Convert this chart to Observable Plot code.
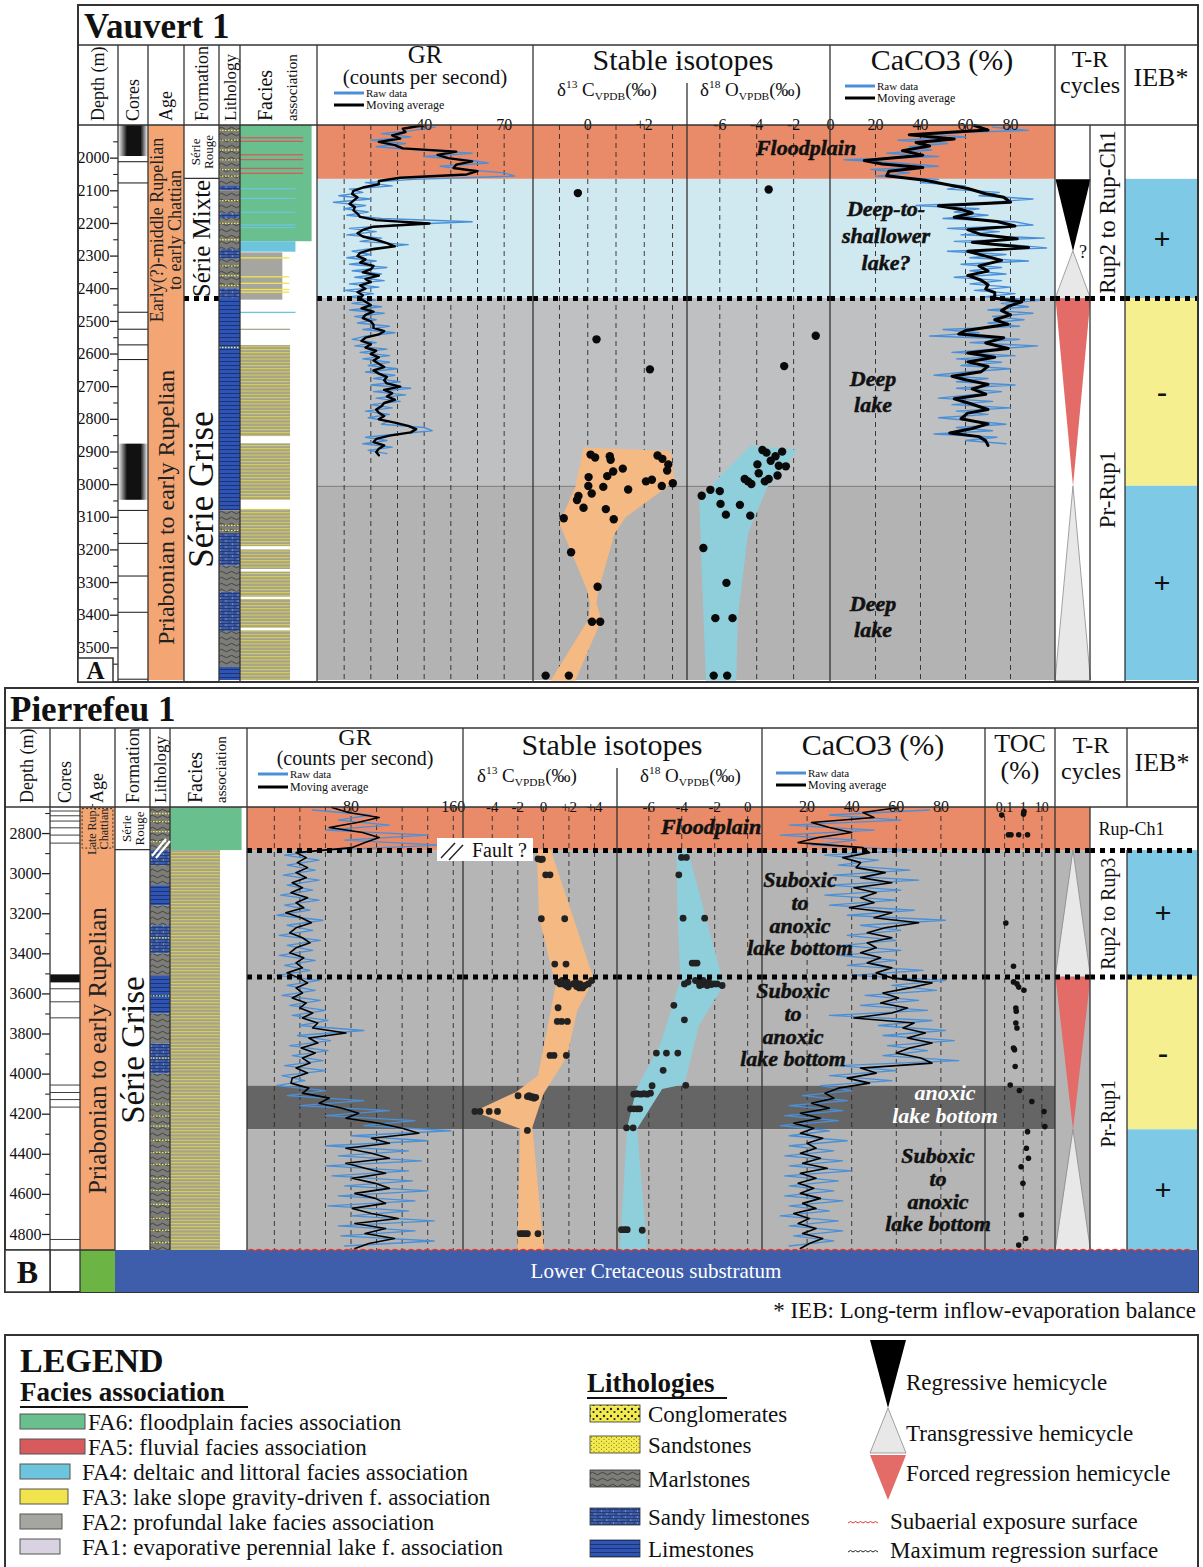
<!DOCTYPE html>
<html>
<head>
<meta charset="utf-8">
<script src="https://cdn.jsdelivr.net/npm/d3@7"></script>
<script src="https://cdn.jsdelivr.net/npm/@observablehq/plot@0.6"></script>
<style>
html,body{margin:0;padding:0;background:#fff;}
#root{position:relative;width:1203px;height:1567px;overflow:hidden;background:#fff;font-family:"Liberation Serif","Times New Roman",serif;}
#root > svg{position:absolute;max-width:none;}
</style>
</head>
<body>
<svg width="0" height="0" style="position:absolute;left:0;top:0">
<defs>
<pattern id="patMarl" width="10" height="6" patternUnits="userSpaceOnUse">
<rect width="10" height="6" fill="#7c7c78"/>
<path d="M0 3.5 Q2.5 1 5 3.5 T10 3.5" fill="none" stroke="#333" stroke-width="0.8"/>
</pattern>
<pattern id="patSandyLime" width="12" height="6" patternUnits="userSpaceOnUse">
<rect width="12" height="6" fill="#3d5ca6"/>
<path d="M0 0.5H12M0 3.5H12M4 0.5V3.5M10 3.5V6" stroke="#1d2e66" stroke-width="0.7" fill="none"/>
<circle cx="7" cy="2" r="0.5" fill="#c9d3ef"/>
<circle cx="1.5" cy="5" r="0.5" fill="#c9d3ef"/>
</pattern>
<pattern id="patLime" width="12" height="4" patternUnits="userSpaceOnUse">
<rect width="12" height="4" fill="#2f55b4"/>
<path d="M0 0.5H12" stroke="#172a64" stroke-width="0.8"/>
</pattern>
<pattern id="patSand" width="5" height="4" patternUnits="userSpaceOnUse">
<rect width="5" height="4" fill="#f3ea4e"/>
<circle cx="1.5" cy="1.2" r="0.55" fill="#6b6218"/>
<circle cx="4" cy="3.2" r="0.55" fill="#6b6218"/>
</pattern>
<pattern id="patCongl" width="7" height="7" patternUnits="userSpaceOnUse">
<rect width="7" height="7" fill="#f3ea4e"/>
<circle cx="2" cy="2" r="1.2" fill="#222"/>
<circle cx="5.5" cy="5" r="1.1" fill="#222"/>
</pattern>
<pattern id="patFA23" width="6" height="3.2" patternUnits="userSpaceOnUse">
<rect width="6" height="3.2" fill="#a4a290"/>
<rect y="0" width="6" height="1" fill="#ddd24a"/>
</pattern>
<linearGradient id="gradCore" x1="0" x2="1" y1="0" y2="0">
<stop offset="0" stop-color="#fff"/>
<stop offset="0.3" stop-color="#111"/>
<stop offset="0.75" stop-color="#111"/>
<stop offset="1" stop-color="#fff"/>
</linearGradient>
</defs>
</svg>
<div id="root"></div>
<script>
// ================= DATA: Vauvert 1 =================
const vauDepthLabels = [2000,2100,2200,2300,2400,2500,2600,2700,2800,2900,3000,3100,3200,3300,3400,3500];
const vauDepthMinor = [1950,2050,2150,2250,2350,2450,2550,2650,2750,2850,2950,3050,3150,3250,3350,3450,3550];
const vauBands = [[1900,2065,"floodplain"],[2065,2430,"lake"],[2430,3005,"deep"],[3005,3600,"deep2"]];
const vauMRS = [2430];
const vauCores = [[1900,1995],[2011,2014],[2076,2079],[2472,2475],[2524,2527],[2572,2575],[2617,2620],[2876,3048],[3079,3082],[3180,3183],[3280,3283],[3391,3394],[3596,3599]];
const vauAge = [[1900,2540,"Early(?)-middle Rupelian\nto early Chattian"],[2540,3600,"Priabonian to early Rupelian"]];
const vauFormation = [[1900,2062,"Série\nRouge"],[2062,2430,"Série Mixte"],[2430,3600,"Série Grise"]];
const vauLitho = [[1900,2085,"marl"],[2085,2100,"sandylime"],[2100,2170,"marl"],[2170,2185,"sandylime"],[2185,2280,"marl"],[2280,2310,"sandylime"],[2310,2400,"marl"],[2400,2430,"sandylime"],[2430,3080,"lime"],[3080,3150,"marl"],[3150,3250,"sandylime"],[3250,3330,"marl"],[3330,3450,"sandylime"],[3450,3560,"marl"],[3560,3600,"lime"]];
const vauSand = [1915,1945,1975,2005,2035,2055,2130,2200,2250,2330,2360,2390,2580,3125,3140];
const vauFacies = [[1900,2256,"FA6"],[1937,1941,"FA5"],[1948,1952,"FA5"],[1989,1993,"FA5"],[2004,2008,"FA5"],[2031,2035,"FA5"],[2046,2050,"FA5"],
  [2093,2097,"FA4"],[2123,2127,"FA4"],[2165,2169,"FA4"],[2204,2208,"FA4"],[2212,2216,"FA4"],[2256,2288,"FA4"],[2290,2435,"FA2"],
  [2305,2309,"FA3"],[2363,2367,"FA3"],[2383,2387,"FA3"],[2402,2406,"FA3"],[2410,2414,"FA3"],[2472,2476,"FA4"],[2524,2528,"FA23"],
  [2574,2853,"FA23"],[2875,3048,"FA23"],[3076,3190,"FA23"],[3200,3260,"FA23"],[3268,3345,"FA23"],[3352,3440,"FA23"],[3448,3600,"FA23"]];
// GR (counts per second), 10 m sampling
const vauGRTop = 1900, vauGRRawTop = 1905, vauStep = 10;
const vauGRMA = [39,32,33,28,31,23,29,32,52,45, 49,58,52,51,60,56,31,23,23,17, 13.5,13,15,13.5,12,14,13.5,15,16,22,
  42,21,17,15,17,22,26,29,20,16, 15,18,16,21,20,17,23,18,20,16, 18,15,17,16,18,20,16.5,21,18,17,
  20,21,21,25,23,18,16.5,20,18,22, 20,23,21,23,25,21,23,26,25,26, 31,25,28,26,29,25,24,22,23,25,
  23,29,34,37,35,27,22,21,25,23, 22,23];
const vauGRRaw = [44,36,24,35,20,33,22,38,58,40, 56,64,46,56,70,74,36,18,28,12, 17,8,20,6,18,10,19,11,24,58,
  28,12,22,11,24,16,34,22,13,20, 11,22,12,26,13,24,14,25,12,23, 10,21,12,22,13,24,12,25,14,22,
  15,27,17,29,18,13,22,14,26,16, 27,17,27,19,30,18,29,21,31,20, 35,21,33,22,31,20,28,18,27,19,
  27,24,40,43,30,18,26,17,28,19, 26];
const vauGRGrid = [10,20,30,40,50,60,70], vauGRTicks = [40,70];
// CaCO3 (%)
const vauCaMADepth = [1900,1914,1928,1941,1952,1963,1977,1991,2007,2018,2029,2040,2054,2068,2080,2093,2109,2120,2135,2146,
  2157,2168,2181,2194,2208,2219,2234,2247,2258,2274,2285,2300,2313,2330,2346,2359,2374,2388,2401,2412,
  2429,2440,2454,2467,2480,2495,2509,2528,2539,2550,2566,2583,2597,2610,2624,2638,2654,2668,2679,2693,
  2707,2723,2737,2754,2770,2781,2798,2814,2828,2842,2853,2866,2880];
const vauCaMA = [64,70,35,55,38,44,32,41,15,23, 41,26,25,42,51,61,69,77,80,48, 58,63,55,74,82,61,67,83,63,88,
  61,69,76,66,70,61,67,70,69,73, 73,85,79,76,80,73,79,60,57,77, 69,79,61,73,61,70,67,54,60,70,
  63,69,55,63,70,61,58,70,63,53, 66,69,70];
const vauCaRawTop = 1905;
const vauCaRaw = [72,88,40,60,30,52,35,45,25,48, 6,30,48,18,35,20,48,40,60,52, 75,66,90,72,38,66,55,70,50,82,
  90,52,75,58,95,55,80,96,52,78, 62,88,58,76,62,78,55,76,62,80, 64,82,68,94,76,88,70,90,72,86,
  70,84,50,66,44,84,62,92,72,54, 82,56,76,58,80,60,46,70,56,82, 56,76,62,48,72,54,80,56,70,48,
  64,78,56,72,46,74,60,78];
const caGrid = [20,40,60,80], caTicks = [20,40,60,80];
// Stable isotopes [depth, permil]
const vauC13 = [[2107,-0.35],[2555,0.31],[2647,2.2],[2908,0.1],[2917,0.26],[2913,0.78],[2924,0.81],[2911,2.47],[2921,2.64],
  [2938,2.85],[2957,2.81],[2951,1.24],[2960,0.9],[2974,0.69],[2977,0.03],[3004,0.02],[3007,0.55],[3027,0.14],[3015,1.43],
  [2990,2.06],[2985,2.27],[3004,2.62],[2996,3.01],[3035,-0.33],[3047,-0.38],[3071,-0.15],[3075,0.64],[3106,0.92],[3103,-0.85],
  [3207,-0.59],[3313,0.35],[3420,0.15],[3420,0.44],[3585,-1.49],[3585,-0.67]];
const vauC13Env = [[2886,-0.15],[2897,2.93],[2990,3.08],[3100,1.34],[3150,0.95],[3326,0.37],[3365,0.31],[3414,0.49],[3600,-0.44],
  [3600,-1.31],[3414,0.02],[3365,0.08],[3321,-0.03],[3122,-0.99],[3100,-0.91],[3007,-0.44]];
const vauO18 = [[2096,-3.35],[2544,-0.8],[2637,-2.51],[2894,-3.69],[2902,-3.47],[2913,-2.98],[2899,-2.62],[2927,-3.24],[2938,-3.96],
  [2942,-2.8],[2944,-2.42],[2965,-3.89],[2983,-3.35],[2972,-2.87],[2983,-4.65],[2990,-4.47],[2998,-4.29],[2990,-3.56],[3062,-4.91],
  [3095,-4.35],[3016,-6.51],[3020,-6.0],[3034,-6.98],[3059,-5.96],[3092,-5.67],[3194,-6.89],[3301,-5.64],[3409,-6.24],[3409,-5.31],
  [3585,-6.33],[3585,-5.6]];
const vauO18Env = [[2880,-4.33],[2894,-1.78],[3007,-3.42],[3150,-4.47],[3403,-5.02],[3600,-5.11],[3600,-6.75],[3260,-6.98],[3051,-7.11],[2976,-6.02]];
const vauC13Grid = [-1,0,1,2,3], vauC13Ticks = [0,2];
const vauO18Grid = [-6,-4,-2], vauO18Ticks = [-6,-4,-2,0];
const vauTR = [[2065,2285,"R"],[2285,2430,"T"],[2430,3005,"F"],[3005,3600,"T"]];
const vauSeq = [[1900,2430,"Rup2 to Rup-Ch1"],[2430,3600,"Pr-Rup1"]];
const vauIEB = [[2065,2430,"+"],[2430,3005,"-"],[3005,3600,"+"]];

// ================= DATA: Pierrefeu 1 =================
const pieDepthLabels = [2800,3000,3200,3400,3600,3800,4000,4200,4400,4600,4800];
const pieDepthMinor = [2700,2900,3100,3300,3500,3700,3900,4100,4300,4500,4700];
const pieBands = [[2670,2885,"floodplain"],[2885,4060,"gray"],[4060,4278,"anoxic"],[4278,4880,"gray"]];
const pieTRBands = [[2670,2885,"floodplain"],[2885,4880,"gray"]];
const pieMRS = [2885,3515];
const pieCores = [[2688,2692],[2712,2716],[2738,2742],[2772,2776],[2808,2812],[2848,2852],[3505,3545],[3575,3579],[3640,3644],[3720,3724],[4055,4059],[4092,4096],[4128,4132],[4165,4169],[4825,4829]];
const pieAge = [[2670,2885,"Late Rup.-\nChattian"],[2885,4880,"Priabonian to early Rupelian"]];
const pieFormation = [[2670,2880,"Série\nRouge"],[2880,4880,"Série Grise"]];
const pieLitho = [[2670,2885,"marl"],[2885,2960,"sandylime"],[2960,3060,"marl"],[3060,3160,"lime"],[3160,3260,"marl"],[3260,3400,"sandylime"],[3400,3510,"marl"],[3510,3700,"lime"],[3700,3850,"marl"],[3850,4000,"sandylime"],[4000,4880,"marl"]];
const pieSand = [2700,2740,2790,2840,3320,3610,3920,4150,4210,4260,4330,4390,4450,4520,4580,4650,4720,4780,4840];
const pieFacies = [[2670,2885,"FA6"],[2885,4880,"FA23"]];
const pieTop = 2670, pieRawTop = 2682.5, pieStep = 25;
const pieGRMA = [65,78,102,85,63,89,102,91,81, 37,45,38,46,37,45,34,42,33,46, 37,43,29,41,49,37,32,42,48,37,
  32,43,37,42,30,39,46,37,42,34, 45,40,50,42,54,50,76,47,54,41, 52,42,48,37,46,34,33,47,42,63,
  55,73,86,76,102,120,133,96,110,76, 96,110,76,91,107,81,99,110,83,99, 107,81,96,117,83,107,91,114,94,83];
const pieGRRaw = [50,95,70,110,60,140,75,150, 60,28,55,30,52,27,55,30,50,25, 55,28,48,22,58,30,50,24,56,30,
  50,24,52,28,48,22,55,30,52,26, 56,32,60,34,62,40,90,38,64,32, 62,34,58,28,60,26,44,22,
  60,30,90,40,110,60,130,90,158,80, 140,60,125,70,135,60,125,65,128,75, 140,70,130,62,125,80,145,70,130,72, 145,75];
const pieGRGrid = [20,40,60,80,100,120,140,160], pieGRTicks = [80,160];
const pieCaMA = [61,45,50,22,30,40,25,16,45, 48,36,44,42,55,44,58,41,51,44, 50,39,58,50,70,55,47,58,47,51,
  44,53,47,58,51,58,76,66,54,61, 53,65,58,41,68,63,73,65,76,66, 60,71,76,44,51,38,48,34,28,32,
  22,30,17,26,14,23,17,27,20,24, 17,26,18,29,17,24,16,23,17,26, 18,24,14,21,16,24,18,27,21,17];
const pieCaRaw = [75,30,62,12,50,8,42,22, 68,28,52,34,66,32,70,30,62,28, 60,30,68,38,82,44,62,38,60,36,
  62,34,60,38,72,40,82,58,78,46, 70,44,74,30,76,52,82,54,86,56, 74,54,88,34,60,30,58,26,
  40,18,38,12,36,10,34,8,30,12, 38,12,32,10,36,12,40,10,34,12, 32,10,36,12,30,8,34,12,36,14, 32,12];
const pieC13 = [[2926,-0.42],[2930,-0.21],[2928,-0.08],[3006,0.18],[3006,0.52],[3225,-0.16],[3225,1.67],[3451,0.89],[3451,1.77],
  [3541,1.09],[3550,1.3],[3550,1.56],[3558,1.77],[3566,1.95],[3550,2.34],[3563,2.6],[3550,2.86],[3570,3.07],[3558,3.26],[3550,3.52],
  [3533,3.78],[3533,1.48],[3541,1.87],[3541,2.53],[3570,2.81],[3669,1.15],[3737,1.09],[3737,1.43],[3737,1.88],[3907,0.52],[3907,0.83],
  [3907,1.8],[4108,-1.98],[4112,-1.25],[4108,-1.12],[4116,-0.99],[4112,-0.86],[4120,-0.73],[4116,-0.6],[4186,-5.36],[4186,-4.95],
  [4186,-4.24],[4186,-3.59],[4281,-1.25],[4796,-1.82],[4796,-1.64],[4796,-1.46],[4796,-1.25],[4796,-0.42]];
const pieC13Env = [[2879,-0.52],[2879,0.57],[3529,3.96],[3682,2.66],[3916,1.82],[4099,0],[4265,-0.86],[4880,0.05],[4880,-2.03],
  [4273,-1.82],[4186,-5.42],[4090,-2.16],[4007,-0.42],[3558,0.96],[3217,-0.34]];
const pieO18 = [[2919,-4.02],[2919,-3.72],[3006,-4.18],[3222,-3.92],[3222,-2.61],[3446,-3.37],[3446,-3.21],[3446,-3.07],
  [3550,-3.84],[3541,-3.62],[3533,-3.17],[3541,-2.97],[3553,-2.77],[3550,-2.57],[3541,-2.36],[3553,-2.22],[3550,-2.06],[3550,-1.86],
  [3558,-1.55],[3558,-2.91],[3558,-2.46],[3533,-2.71],[3657,-4.48],[3729,-3.84],[3895,-5.54],[3895,-4.93],[3895,-4.24],[3981,-5.13],
  [4056,-3.76],[4058,-5.8],[4100,-6.91],[4098,-6.71],[4100,-6.5],[4098,-6.3],[4100,-6.1],[4095,-5.9],[4173,-7.11],[4173,-6.91],
  [4173,-6.71],[4173,-6.55],[4268,-7.35],[4268,-6.95],[4776,-7.66],[4776,-7.47],[4776,-7.31],[4779,-6.4]];
const pieO18Env = [[2879,-4.32],[2879,-3.64],[3553,-1.45],[3760,-2.97],[4051,-3.84],[4074,-5.19],[4273,-6.71],[4880,-6.1],[4880,-7.76],
  [4265,-7.31],[4074,-6.75],[3849,-5.29],[3533,-4.08],[3222,-4.25]];
const pieC13Grid = [-4,-2,0,2,4], pieC13Ticks = [-4,-2,0,2,4];
const pieO18Grid = [-6,-4,-2,0], pieO18Ticks = [-6,-4,-2,0];
const pieTOC = [[2708,0.07],[2690,1.1],[2703,1.04],[2806,0.16],[2806,0.22],[2806,0.57],[2806,1.7],[3246,0.116],[3462,0.3],[3540,0.3],
  [3550,0.46],[3566,0.57],[3582,1.09],[3670,0.4],[3686,0.42],[3745,0.4],[3770,0.46],[3870,0.3],[3878,0.34],[3962,0.37],[4054,0.2],
  [4082,0.62],[4137,2.9],[4187,13],[4262,14.4],[4287,1.7],[4370,1.47],[4420,1.9],[4462,0.77],[4545,0.96],[4703,0.8],[4820,1.35],[4853,0.57]];
const tocGrid = [0.1,1,10], tocTicks = [0.1,1,10];
const pieTR = [[2885,3515,"T"],[3515,4278,"F"],[4278,4880,"T"]];
const pieSeq = [[2885,3515,"Rup2 to Rup3"],[3515,4880,"Pr-Rup1"]];
const pieSeqTop = [[2670,2885,"Rup-Ch1"]];
const pieIEB = [[2885,3515,"+"],[3515,4278,"-"],[4278,4880,"+"]];

// ================= Legend texts =================
const faciesLegend = [["FA6","FA6: floodplain facies association"],["FA5","FA5: fluvial facies association"],["FA4","FA4: deltaic and littoral facies association"],
  ["FA3","FA3: lake slope gravity-driven f. association"],["FA2","FA2: profundal lake facies association"],["FA1","FA1: evaporative perennial lake f. association"]];
const lithoLegend = [["congl","Conglomerates"],["sand","Sandstones"],["marl","Marlstones"],["sandylime","Sandy limestones"],["lime","Limestones"]];

// ================= STYLE =================
const FONT = '"Liberation Serif","Times New Roman",Times,serif';
const RAW = "#4A90D9";
const bandFill = {floodplain:"#E98B69", lake:"#D0E8EF", deep:"#BFC0C2", deep2:"#B3B3B3", gray:"#B5B5B5", anoxic:"#656565"};
const faciesFill = {FA6:"#69BF8D", FA5:"#D75B5C", FA4:"#6CC5DC", FA3:"#F1E44C", FA2:"#A6A6A0", FA1:"#D8D2E2", FA23:"url(#patFA23)"};
const faciesLen = {FA6:0.93, FA5:0.82, FA4:0.72, FA3:0.64, FA2:0.55, FA23:0.65, FA1:0.4};
const lithoFill = {marl:"url(#patMarl)", sandylime:"url(#patSandyLime)", lime:"url(#patLime)", sand:"url(#patSand)", congl:"url(#patCongl)"};
const trFill = {R:"#000", T:"#E8E8E8", F:"#E36B68"};
const iebFill = {"+":"#7DC9E6", "-":"#F6EF90"};

const V = {top:125, bottom:680, d0:1900, d1:3600};
const P = {top:807, bottom:1250, d0:2670, d1:4880};

const root = document.getElementById("root");
function place(node, x, y) {
  node.style.position = "absolute";
  node.style.left = x + "px";
  node.style.top = y + "px";
  node.style.maxWidth = "none";
  root.appendChild(node);
  return node;
}
const baseStyle = {background:"transparent", overflow:"visible", fontFamily:FONT, color:"#111"};
function track(W, x0, x1, xopt, marks) {
  const svg = Plot.plot({
    width: x1 - x0, height: W.bottom - W.top,
    marginTop:0, marginRight:0, marginBottom:0, marginLeft:0,
    x: Object.assign({axis:null}, xopt),
    y: {domain:[W.d0, W.d1], reverse:true, axis:null},
    color: {type:"identity"},
    style: baseStyle,
    marks
  });
  return place(svg, x0, W.top);
}
function depthTrack(W, x0, x1, labels, minor, size) {
  const svg = Plot.plot({
    width: x1 - x0, height: W.bottom - W.top,
    marginTop:0, marginRight:0, marginBottom:0, marginLeft:(x1 - x0) - 8,
    x: {domain:[0,1], axis:null},
    y: {domain:[W.d0, W.d1], reverse:true, axis:null},
    style: baseStyle,
    marks: [
      Plot.ruleY(labels, {y:d => d, x1:() => 0, x2:() => 1, stroke:"#222", strokeWidth:1.3}),
      Plot.ruleY(minor, {y:d => d, x1:() => 0.4, x2:() => 1, stroke:"#222", strokeWidth:1.1}),
      Plot.text(labels, {y:d => d, x:() => 0, text:d => String(d), textAnchor:"end", dx:-1, fontSize:size, fontFamily:FONT, fill:"#111"})
    ]
  });
  return place(svg, x0, W.top);
}
function headerTicks(x0, x1, xopt, ticks, fmt, baseline, size) {
  const h = 24;
  const svg = Plot.plot({
    width: x1 - x0, height: h, marginTop:0, marginRight:0, marginBottom:0, marginLeft:0,
    x: Object.assign({axis:null}, xopt),
    style: baseStyle,
    marks: [Plot.text(ticks, {x:d => d, text:fmt, frameAnchor:"bottom", lineAnchor:"bottom", fontSize:size, fontFamily:FONT, fill:"#111"})]
  });
  return place(svg, x0, baseline - h + 5);
}
const rows = arr => arr.map(([d, v]) => ({d, v}));
const regular = (top, step, vals) => vals.map((v, i) => ({d: top + i * step, v}));
const bands = (b, dom) => Plot.rect(b, {x1:() => dom[0], x2:() => dom[1], y1:d => d[0], y2:d => d[1], fill:d => bandFill[d[2]]});
const grid = g => Plot.ruleX(g, {x:d => d, stroke:"#2a2a2a", strokeWidth:0.9, strokeDasharray:"5,4"});
const mrs = m => Plot.ruleY(m, {y:d => d, stroke:"#000", strokeWidth:5, strokeDasharray:"5,5"});
const bandEdges = b => Plot.ruleY(b.filter(d => d[2] === "deep2").map(d => d[0]), {y:d => d, stroke:"#6a6a6a", strokeWidth:0.8});
const poly = (env, fill) => Plot.line(rows(env), {x:"v", y:"d", fill, stroke:"none", curve:"linear-closed"});
function triangles(tr) {
  return tr.map(([a, b, t]) => {
    const pts = (t === "T") ? [{x:0.5, y:a}, {x:1, y:b}, {x:0, y:b}] : [{x:0, y:a}, {x:1, y:a}, {x:0.5, y:b}];
    return Plot.line(pts, {x:"x", y:"y", fill:trFill[t], stroke:t === "T" ? "#8a8a8a" : "none", strokeWidth:0.8, curve:"linear-closed"});
  });
}
const cores = c => Plot.rect(c, {x1:() => 0, x2:() => 1, y1:d => d[0], y2:d => d[1], fill:d => (d[1] - d[0] > 60 ? "url(#gradCore)" : "#111")});
const litho = (l, s) => [
  Plot.rect(l, {x1:() => 0, x2:() => 1, y1:d => d[0], y2:d => d[1], fill:d => lithoFill[d[2]]}),
  Plot.ruleY(s, {y:d => d, stroke:"#F5EC50", strokeWidth:1.3, strokeDasharray:"1.5,1.5"})
];
const facies = f => Plot.rect(f, {x1:() => 0, x2:d => faciesLen[d[2]], y1:d => d[0], y2:d => d[1], fill:d => faciesFill[d[2]]});
const mid = d => (d[0] + d[1]) / 2;
const sgn = d => (d > 0 ? "+" + d : String(d));

// ================= VAUVERT TRACKS =================
depthTrack(V, 78, 118, vauDepthLabels, vauDepthMinor, 16);
track(V, 118, 148, {domain:[0,1]}, [cores(vauCores)]);
track(V, 148, 184, {domain:[0,1]}, [
  Plot.rect([[V.d0, V.d1]], {x1:() => 0, x2:() => 1, y1:d => d[0], y2:d => d[1], fill:() => "#F3A673"}),
  Plot.text(vauAge.slice(0, 1), {y:mid, text:d => d[2], rotate:-90, fontSize:18, lineHeight:0.95, fontFamily:FONT, fill:"#222"}),
  Plot.text(vauAge.slice(1), {y:mid, text:d => d[2], rotate:-90, fontSize:24, fontFamily:FONT, fill:"#222"})
]);
track(V, 184, 219, {domain:[0,1]}, [
  Plot.ruleY([vauFormation[0][1]], {y:d => d, stroke:"#333", strokeWidth:1.2}),
  Plot.text(vauFormation.slice(0, 1), {y:mid, text:d => d[2], rotate:-90, fontSize:13, lineHeight:1.0, fontFamily:FONT, fill:"#111"}),
  Plot.text(vauFormation.slice(1, 2), {y:mid, text:d => d[2], rotate:-90, fontSize:25, fontFamily:FONT, fill:"#111"}),
  Plot.text(vauFormation.slice(2), {y:mid, text:d => d[2], rotate:-90, fontSize:35, fontFamily:FONT, fill:"#111"}),
  mrs(vauMRS)
]);
track(V, 219, 240, {domain:[0,1]}, litho(vauLitho, vauSand));
track(V, 240, 317, {domain:[0,1]}, [facies(vauFacies)]);
track(V, 317, 533, {domain:[0,81]}, [
  bands(vauBands, [0,81]), bandEdges(vauBands), grid(vauGRGrid),
  Plot.line(regular(vauGRRawTop, vauStep, vauGRRaw), {x:"v", y:"d", stroke:RAW, strokeWidth:1.4}),
  Plot.line(regular(vauGRTop, vauStep, vauGRMA), {x:"v", y:"d", stroke:"#000", strokeWidth:2.4}),
  mrs(vauMRS)
]);
track(V, 533, 687, {domain:[-1.92,3.53]}, [
  bands(vauBands, [-1.92,3.53]), bandEdges(vauBands), grid(vauC13Grid), poly(vauC13Env, "#F5B983"),
  Plot.dot(rows(vauC13), {x:"v", y:"d", r:4.2, fill:"#0a0a0a"}), mrs(vauMRS)
]);
track(V, 687, 830, {domain:[-7.75,0]}, [
  bands(vauBands, [-7.75,0]), bandEdges(vauBands), grid(vauO18Grid), poly(vauO18Env, "#8FCFDB"),
  Plot.dot(rows(vauO18), {x:"v", y:"d", r:4.2, fill:"#0a0a0a"}), mrs(vauMRS)
]);
track(V, 830, 1055, {domain:[0,100]}, [
  bands(vauBands, [0,100]), bandEdges(vauBands), grid(caGrid),
  Plot.line(regular(vauCaRawTop, vauStep, vauCaRaw), {x:"v", y:"d", stroke:RAW, strokeWidth:1.4}),
  Plot.line(vauCaMA.map((v, i) => ({d:vauCaMADepth[i], v})), {x:"v", y:"d", stroke:"#000", strokeWidth:3}),
  mrs(vauMRS)
]);
track(V, 1055, 1090, {domain:[0,1]}, [triangles(vauTR), mrs(vauMRS)]);
track(V, 1090, 1125, {domain:[0,1]}, [
  Plot.text(vauSeq, {y:mid, text:d => d[2], rotate:-90, fontSize:23, fontFamily:FONT, fill:"#111"}), mrs(vauMRS)
]);
track(V, 1125, 1198, {domain:[0,1]}, [
  Plot.rect(vauIEB, {x1:() => 0, x2:() => 1, y1:d => d[0], y2:d => d[1], fill:d => iebFill[d[2]]}),
  Plot.text(vauIEB, {y:mid, text:d => (d[2] === "+" ? "+" : "-"), fontSize:30, fontWeight:"bold", fontFamily:FONT, fill:"#111"}),
  mrs(vauMRS)
]);
// header tick labels (Vauvert)
headerTicks(317, 533, {domain:[0,81]}, vauGRTicks, d => String(d), 124, 16);
headerTicks(533, 687, {domain:[-1.92,3.53]}, vauC13Ticks, sgn, 124, 16);
headerTicks(687, 830, {domain:[-7.75,0]}, vauO18Ticks, d => String(d), 124, 16);
headerTicks(830, 1055, {domain:[0,100]}, caTicks, d => String(d), 124, 16);

// ================= PIERREFEU TRACKS =================
depthTrack(P, 5, 50, pieDepthLabels, pieDepthMinor, 16);
track(P, 50, 80, {domain:[0,1]}, [cores(pieCores)]);
track(P, 80, 115, {domain:[0,1]}, [
  Plot.rect([[P.d0, P.d1]], {x1:() => 0, x2:() => 1, y1:d => d[0], y2:d => d[1], fill:() => "#F3A673"}),
  Plot.rect(pieAge.slice(0, 1), {x1:() => 0.06, x2:() => 0.94, y1:d => d[0] + 8, y2:d => d[1] - 10, fill:"none", stroke:"#333", strokeDasharray:"2,2", strokeWidth:1}),
  Plot.text(pieAge.slice(0, 1), {y:mid, text:d => d[2], rotate:-90, fontSize:12, lineHeight:1.0, fontFamily:FONT, fill:"#222"}),
  Plot.text(pieAge.slice(1), {y:mid, text:d => d[2], rotate:-90, fontSize:25, fontFamily:FONT, fill:"#222"})
]);
track(P, 115, 150, {domain:[0,1]}, [
  Plot.ruleY([pieFormation[0][1]], {y:d => d, stroke:"#333", strokeWidth:1.2}),
  Plot.text(pieFormation.slice(0, 1), {y:mid, text:d => d[2], rotate:-90, fontSize:13, lineHeight:1.0, fontFamily:FONT, fill:"#111"}),
  Plot.text(pieFormation.slice(1), {y:mid, text:d => d[2], rotate:-90, fontSize:33, fontFamily:FONT, fill:"#111"})
]);
track(P, 150, 170, {domain:[0,1]}, litho(pieLitho, pieSand));
track(P, 170, 247, {domain:[0,1]}, [facies(pieFacies)]);
track(P, 247, 463, {domain:[-1,168]}, [
  bands(pieBands, [-1,168]), grid(pieGRGrid),
  Plot.line(regular(pieRawTop, pieStep, pieGRRaw), {x:"v", y:"d", stroke:RAW, strokeWidth:1.3}),
  Plot.line(regular(pieTop, pieStep, pieGRMA), {x:"v", y:"d", stroke:"#000", strokeWidth:1.6}),
  mrs(pieMRS)
]);
track(P, 463, 617, {domain:[-6.25,5.8]}, [
  bands(pieBands, [-6.25,5.8]), grid(pieC13Grid), poly(pieC13Env, "#F5B983"),
  Plot.dot(rows(pieC13), {x:"v", y:"d", r:3.4, fill:"#222"}), mrs(pieMRS)
]);
track(P, 617, 762, {domain:[-7.9,0.9]}, [
  bands(pieBands, [-7.9,0.9]), grid(pieO18Grid), poly(pieO18Env, "#8FCFDB"),
  Plot.dot(rows(pieO18), {x:"v", y:"d", r:3.4, fill:"#222"}), mrs(pieMRS)
]);
track(P, 762, 985, {domain:[0,100]}, [
  bands(pieBands, [0,100]), grid(caGrid),
  Plot.line(regular(pieRawTop, pieStep, pieCaRaw), {x:"v", y:"d", stroke:RAW, strokeWidth:1.3}),
  Plot.line(regular(pieTop, pieStep, pieCaMA), {x:"v", y:"d", stroke:"#000", strokeWidth:1.6}),
  mrs(pieMRS)
]);
track(P, 985, 1055, {type:"log", domain:[0.0094,54]}, [
  bands(pieBands, [0.0094,54]), grid(tocGrid),
  Plot.dot(rows(pieTOC), {x:"v", y:"d", r:2.8, fill:"#111"}), mrs(pieMRS)
]);
track(P, 1055, 1090, {domain:[0,1]}, [bands(pieTRBands, [0,1]), triangles(pieTR), mrs(pieMRS)]);
track(P, 1090, 1127, {domain:[0,1]}, [
  Plot.text(pieSeq, {y:mid, text:d => d[2], rotate:-90, fontSize:20, fontFamily:FONT, fill:"#111"}),
  Plot.text(pieSeqTop, {y:mid, text:d => d[2], frameAnchor:"left", textAnchor:"start", dx:8, fontSize:18, fontFamily:FONT, fill:"#111"}),
  mrs(pieMRS)
]);
track(P, 1127, 1198, {domain:[0,1]}, [
  Plot.rect(pieIEB, {x1:() => 0, x2:() => 1, y1:d => d[0], y2:d => d[1], fill:d => iebFill[d[2]]}),
  Plot.text(pieIEB, {y:mid, text:d => (d[2] === "+" ? "+" : "-"), fontSize:30, fontWeight:"bold", fontFamily:FONT, fill:"#111"}),
  mrs(pieMRS)
]);
headerTicks(247, 463, {domain:[-1,168]}, pieGRTicks, d => String(d), 806, 16);
headerTicks(463, 617, {domain:[-6.25,5.8]}, pieC13Ticks, sgn, 806, 15);
headerTicks(617, 762, {domain:[-7.9,0.9]}, pieO18Ticks, d => String(d), 806, 15);
headerTicks(762, 985, {domain:[0,100]}, caTicks, d => String(d), 806, 16);
headerTicks(985, 1055, {type:"log", domain:[0.0094,54]}, tocTicks, d => String(d), 806, 14);

// ================= OVERLAY: frames, headers, annotations, legend =================
const ov = d3.create("svg").attr("width", 1203).attr("height", 1567).style("left", "0px").style("top", "0px").style("pointer-events", "none");
const g = ov.append("g").attr("font-family", FONT).attr("fill", "#111");
function L(x1, y1, x2, y2, w, c, dash) {
  const l = g.append("line").attr("x1", x1).attr("y1", y1).attr("x2", x2).attr("y2", y2).attr("stroke", c || "#333").attr("stroke-width", w || 1.2);
  if (dash) l.attr("stroke-dasharray", dash);
  return l;
}
function R(x, y, w, h, fill, stroke, sw) {
  return g.append("rect").attr("x", x).attr("y", y).attr("width", w).attr("height", h).attr("fill", fill || "none").attr("stroke", stroke || "none").attr("stroke-width", sw || 1);
}
function T(x, y, s, size, anchor, attrs) {
  const t = g.append("text").attr("x", x).attr("y", y).attr("font-size", size).attr("text-anchor", anchor || "middle").text(s);
  if (attrs) for (const k in attrs) t.attr(k, attrs[k]);
  return t;
}
function VT(x, y, s, size, anchor, attrs) {
  const t = g.append("text").attr("transform", `translate(${x},${y}) rotate(-90)`).attr("font-size", size).attr("text-anchor", anchor || "middle").text(s);
  if (attrs) for (const k in attrs) t.attr(k, attrs[k]);
  return t;
}
function delta(x, y, num, el, size) {
  const t = g.append("text").attr("x", x).attr("y", y).attr("font-size", size).attr("text-anchor", "start");
  t.append("tspan").text("δ");
  t.append("tspan").attr("font-size", size * 0.6).attr("dy", -size * 0.4).text(num);
  t.append("tspan").attr("dy", size * 0.4).text(" " + el);
  t.append("tspan").attr("font-size", size * 0.6).attr("dy", size * 0.22).text("VPDB");
  t.append("tspan").attr("dy", -size * 0.22).text("(‰)");
}
function wave(x0, x1, y, amp, per) {
  let d = `M${x0},${y}`;
  for (let x = x0; x + per <= x1 + 0.1; x += per) d += ` q${per / 2},${-amp * 2} ${per},0`;
  return d;
}
// curve key: coloured lines plus "Raw data" / "Moving average"
function curveKey(x, yRaw, yMA) {
  L(x, yRaw - 4, x + 30, yRaw - 4, 3, RAW);
  L(x, yMA - 4, x + 30, yMA - 4, 3, "#000");
  T(x + 32, yRaw, "Raw data", 11, "start");
  T(x + 32, yMA, "Moving average", 12, "start");
}
const annStyle = {"font-weight":"bold", "font-style":"italic", "stroke":"#111", "stroke-width":0.5};

// --- Vauvert frame
R(78, 5, 1120, 677, "none", "#333", 2);
L(78, 45, 1198, 45, 1.5); L(78, 125, 1198, 125, 1.5);
[118,148,184,219,240,317,533,830,1055,1125].forEach(x => L(x, 45, x, 682, 1.3));
L(687, 83, 687, 680, 1.3); L(1090, 125, 1090, 680, 1.3);
T(84, 38, "Vauvert 1", 35, "start", {"font-weight":"bold"});
[["Depth (m)",104,18],["Cores",139,18],["Age",172,18],["Formation",208,18],["Lithology",236,17],["Facies",272,20],["association",297,15]]
  .forEach(([s, x, f]) => VT(x, 121, s, f, "start"));
T(425, 63, "GR", 25);
T(425, 84, "(counts per second)", 21);
curveKey(334, 97, 109);
T(683, 70, "Stable isotopes", 30);
delta(557, 96, "13", "C", 19); delta(700, 96, "18", "O", 19);
T(942, 70, "CaCO3 (%)", 30);
curveKey(845, 90, 102);
T(1090, 67, "T-R", 24); T(1090, 93, "cycles", 24);
T(1161, 86, "IEB*", 26);
R(78, 658, 35, 24, "#fff", "#333", 1.5); T(95.5, 679, "A", 25, "middle", {"font-weight":"bold"});
T(806, 155, "Floodplain", 22, "middle", annStyle);
[["Deep-to-",216],["shallower",243],["lake?",270]].forEach(([s, y]) => T(886, y, s, 22, "middle", annStyle));
[["Deep",386],["lake",412],["Deep",611],["lake",637]].forEach(([s, y]) => T(873, y, s, 22, "middle", annStyle));
T(1083, 258, "?", 18, "middle");

// --- Pierrefeu frame
R(5, 688, 1193, 604, "none", "#333", 2);
L(5, 728, 1198, 728, 1.5); L(5, 807, 1198, 807, 1.5);
[50,80,115,150,170,247,463,762,985,1055].forEach(x => L(x, 728, x, 1250, 1.3));
L(1127, 728, 1127, 807, 1.3); L(1127, 850, 1127, 1250, 1.3);
L(617, 768, 617, 1250, 1.3); L(1090, 807, 1090, 1250, 1.3);
T(10, 721, "Pierrefeu 1", 35, "start", {"font-weight":"bold"});
[["Depth (m)",33,18],["Cores",71,18],["Age",103,18],["Formation",139,18],["Lithology",166,17],["Facies",202,20],["association",226,15]]
  .forEach(([s, x, f]) => VT(x, 803, s, f, "start"));
T(355, 745, "GR", 24);
T(355, 765, "(counts per second)", 20);
curveKey(258, 778, 791);
T(612, 755, "Stable isotopes", 30);
delta(477, 782, "13", "C", 19); delta(640, 782, "18", "O", 19);
T(873, 755, "CaCO3 (%)", 30);
curveKey(776, 777, 789);
T(1020, 752, "TOC", 26); T(1020, 779, "(%)", 26);
T(1091, 753, "T-R", 24); T(1091, 779, "cycles", 24);
T(1162, 771, "IEB*", 26);
// substratum
R(115, 1250, 1083, 42, "#3E5DAA");
R(80, 1250, 35, 42, "#6CB545");
L(5, 1250, 115, 1250, 1.3); L(50, 1250, 50, 1292, 1.3); L(80, 1250, 80, 1292, 1.3);
R(5, 1250, 45, 42, "#fff", "#333", 1.5); T(27.5, 1283, "B", 32, "middle", {"font-weight":"bold"});
T(656, 1278, "Lower Cretaceous substratum", 21, "middle", {fill:"#fff"});
g.append("path").attr("d", wave(247, 1198, 1251, 1.6, 8)).attr("fill", "none").attr("stroke", "#E03A32").attr("stroke-width", 1.3);
// fault
R(437, 838, 96, 23, "#fff");
L(441, 858, 455, 843, 1.4, "#222"); L(449, 860, 463, 845, 1.4, "#222");
T(472, 857, "Fault ?", 20, "start");
L(152, 856, 166, 839, 2.2, "#fff"); L(156, 858, 170, 841, 2.2, "#fff");
// annotations
T(711, 834, "Floodplain", 22, "middle", annStyle);
[["Suboxic",887],["to",910],["anoxic",933],["lake bottom",955]].forEach(([s, y]) => T(800, y, s, 22, "middle", annStyle));
[["Suboxic",998],["to",1021],["anoxic",1044],["lake bottom",1066]].forEach(([s, y]) => T(793, y, s, 22, "middle", annStyle));
[["anoxic",1100],["lake bottom",1123]].forEach(([s, y]) => T(945, y, s, 22, "middle", {"font-weight":"bold", "font-style":"italic", fill:"#fff"}));
[["Suboxic",1163],["to",1186],["anoxic",1209],["lake bottom",1231]].forEach(([s, y]) => T(938, y, s, 22, "middle", annStyle));

// footnote
T(1196, 1318, "* IEB: Long-term inflow-evaporation balance", 23, "end");

// --- Legend
R(5, 1335, 1193, 240, "none", "#333", 2);
T(20, 1372, "LEGEND", 34, "start", {"font-weight":"bold"});
T(20, 1401, "Facies association", 27, "start", {"font-weight":"bold"});
L(20, 1407, 248, 1407, 2, "#111");
const swW = [65, 65, 50, 48, 42, 40], labX = [88, 88, 82, 82, 82, 82];
faciesLegend.forEach(([code, label], i) => {
  const y = 1430 + i * 25;
  R(20, y - 16, swW[i], 15, faciesFill[code], "#555", 1);
  T(labX[i], y, label, 23, "start");
});
T(587, 1392, "Lithologies", 27, "start", {"font-weight":"bold"});
L(587, 1398, 727, 1398, 2, "#111");
const litY = [1422, 1453, 1487, 1525, 1557];
lithoLegend.forEach(([code, label], i) => {
  R(590, litY[i] - 17, 50, 17, lithoFill[code], "#333", 0.8);
  T(648, litY[i], label, 23, "start");
});
g.append("path").attr("d", "M870,1340 L906,1340 L888,1408 Z").attr("fill", "#000");
g.append("path").attr("d", "M888,1408 L906,1453 L870,1453 Z").attr("fill", "#E8E8E8").attr("stroke", "#8a8a8a").attr("stroke-width", 0.8);
g.append("path").attr("d", "M870,1455 L906,1455 L888,1500 Z").attr("fill", "#E36B68");
T(906, 1390, "Regressive hemicycle", 23, "start");
T(906, 1441, "Transgressive hemicycle", 23, "start");
T(906, 1481, "Forced regression hemicycle", 23, "start");
g.append("path").attr("d", wave(848, 878, 1523, 1.5, 5)).attr("fill", "none").attr("stroke", "#E03A32").attr("stroke-width", 1);
T(890, 1529, "Subaerial exposure surface", 23, "start");
g.append("path").attr("d", wave(848, 878, 1552, 1.5, 5)).attr("fill", "none").attr("stroke", "#222").attr("stroke-width", 1);
T(890, 1558, "Maximum regression surface", 23, "start");

root.appendChild(ov.node());
</script>
</body>
</html>
